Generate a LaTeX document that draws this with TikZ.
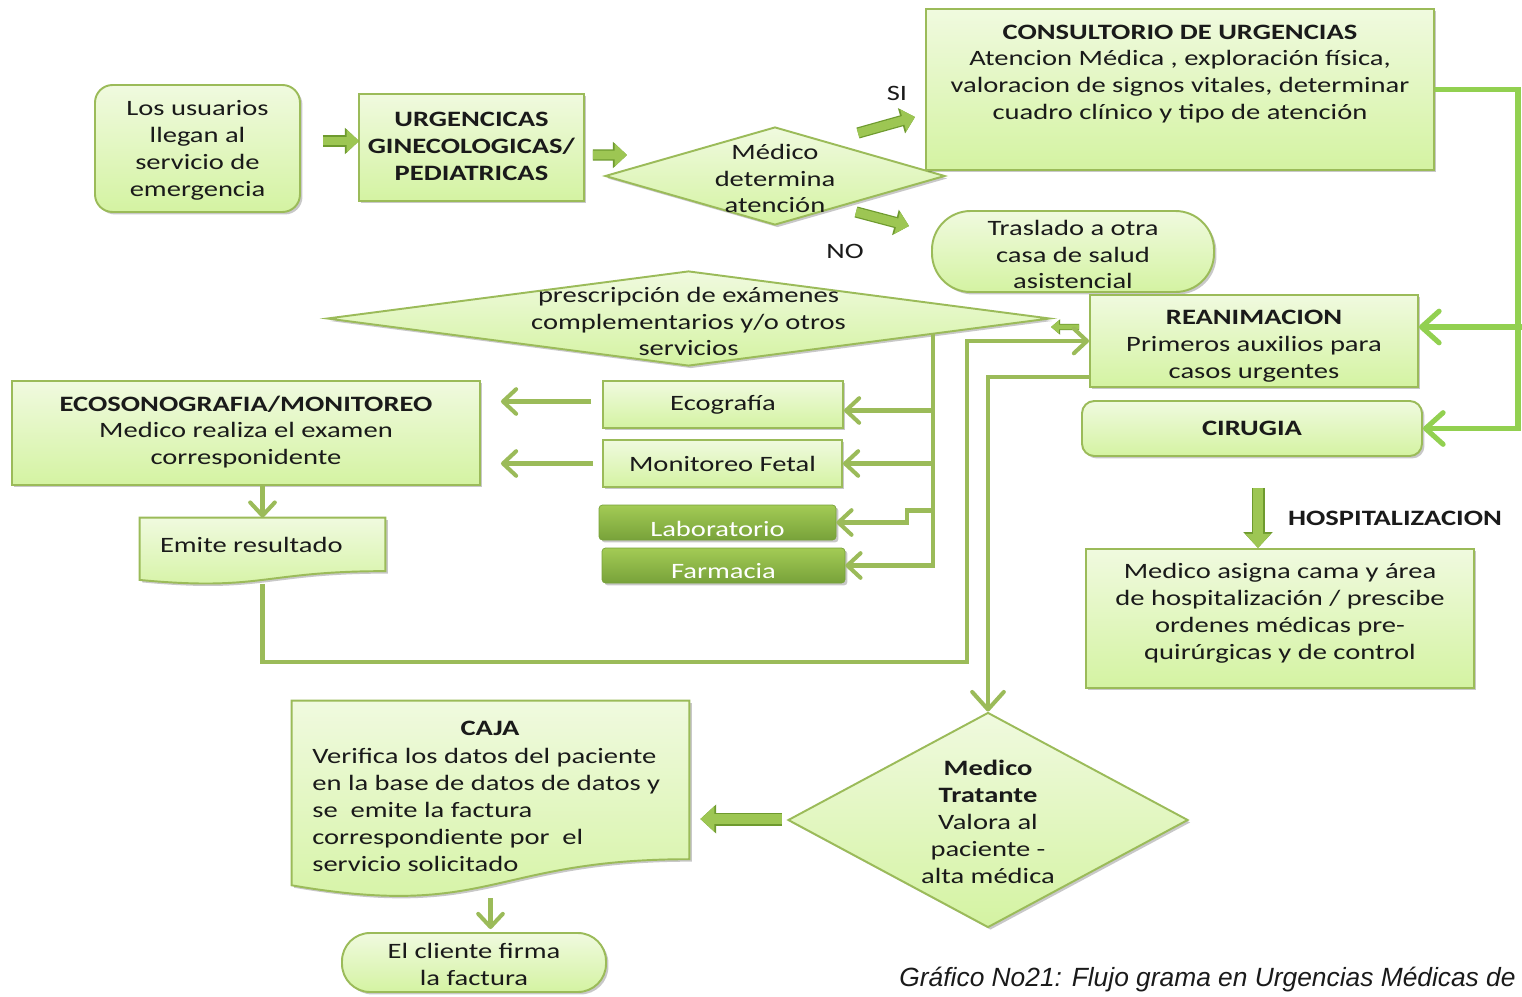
\documentclass[tikz,border=0pt]{standalone}
\usepackage{fontspec}
\setmainfont{Carlito}[FakeStretch=1.3]
\newfontfamily\capfont{Liberation Sans}
\usetikzlibrary{shapes.geometric,arrows.meta,shadows,calc}
\definecolor{boxtop}{HTML}{F0FADF}
\definecolor{boxbot}{HTML}{D4F3A2}
\definecolor{edgeC}{HTML}{9BBB59}
\definecolor{lineC}{HTML}{9BBB59}
\definecolor{brightC}{HTML}{92D050}
\definecolor{btnTop}{HTML}{A3CB55}
\definecolor{btnBot}{HTML}{78A23A}
\definecolor{blkC}{HTML}{9DC653}
\definecolor{blkD}{HTML}{6E9A2E}
\definecolor{txtC}{HTML}{1A1A1A}
\tikzset{
  bw/.style={minimum width=#1*0.02cm},
  bh/.style={minimum height=#1*0.02cm},
  shad/.style={drop shadow={shadow xshift=1.4pt,shadow yshift=-1.4pt,opacity=0.3,fill=black!70}},
  box/.style={draw=edgeC, line width=1.1pt, top color=boxtop, bottom color=boxbot, shad, inner sep=0pt, align=center, text=txtC},
  rbox/.style={box, rounded corners=#1},
  dia/.style={diamond, draw=edgeC, line width=1.1pt, top color=boxtop, bottom color=boxbot, shad, inner sep=0pt},
  docshape/.style={draw=edgeC, line width=1.1pt, top color=boxtop, bottom color=boxbot, shad},
  btn/.style={top color=btnTop, bottom color=btnBot, draw=btnBot, rounded corners=2pt, shad, inner sep=0pt},
  txt/.style={align=center, text=txtC, inner sep=0pt},
  conn/.style={draw=lineC, line width=2.3pt},
  conn2/.style={draw=brightC, line width=2.9pt},
  chev/.style={-{Straight Barb[length=7.5pt,width=14pt,round]}},
  bigchev/.style={-{Straight Barb[length=10pt,width=18pt,round]}},
  blk/.style={draw=blkC, line width=5pt, -{Triangle[length=7pt,width=12.5pt]},
    preaction={draw=blkD, line width=6.4pt, -{Triangle[length=8pt,width=14.5pt]}}},
  blkbig/.style={draw=blkC, line width=6pt, -{Triangle[length=8pt,width=14pt]},
    preaction={draw=blkD, line width=7.4pt, -{Triangle[length=9pt,width=16pt]}}},
  blksmall/.style={draw=blkC, line width=2.6pt, -{Triangle[length=4.5pt,width=7pt]},
    preaction={draw=blkD, line width=3.6pt, -{Triangle[length=5.2pt,width=8.5pt]}}},
}
\begin{document}
\begin{tikzpicture}[x=0.02cm,y=-0.02cm,font=\fontsize{12.5}{15.3}\selectfont]
\useasboundingbox[fill=white] (0,0) rectangle (1522,997);

% ---- top row
\node[rbox=10pt, bw=205, bh=127] (n1) at (197.5,148.5) {};
\node[txt] (n1T) at (197.5,150.5) {Los usuarios\\llegan al\\servicio de\\emergencia};
\node[box, bw=225, bh=107] (n2) at (471.5,147.5) {};
\node[txt] (n2T) at (471.5,146.5) {\textbf{URGENCICAS}\\\textbf{GINECOLOGICAS/}\\\textbf{PEDIATRICAS}};
\node[dia, bw=340, bh=98] (d1) at (775,176) {};
\node[txt] (d1T) at (775,178.5) {Médico\\determina\\atención};
\node[box, bw=508, bh=161] (consult) at (1180,89.5) {};
\node[txt] (consultT) at (1180,74) {\textbf{CONSULTORIO DE URGENCIAS}\\Atencion Médica , exploración física,\\valoracion de signos vitales, determinar\\cuadro clínico y tipo de atención};
\node[rbox=22pt, bw=282, bh=81] (traslado) at (1073,251.5) {};
\node[txt] (trasladoT) at (1073,254.5) {Traslado a otra\\casa de salud\\asistencial};
\node[txt] (si) at (897,93) {SI};
\node[txt] (no) at (845,251) {NO};

% ---- middle
\node[dia, bw=723, bh=95] (presc) at (688.5,318.5) {};
\node[txt] (prescT) at (688.5,321.5) {prescripción de exámenes\\complementarios y/o otros\\servicios};
\node[box, bw=328, bh=92] (reanim) at (1254,341) {};
\node[txt] (reanimT) at (1254,346) {\textbf{REANIMACION}\\Primeros auxilios para\\casos urgentes};
\node[rbox=7pt, bw=340, bh=55] (cirugia) at (1252,428.5) {\textbf{CIRUGIA}};
\node[box, bw=468, bh=104] (ecos) at (246,433) {};
\node[txt] (ecosT) at (246,432) {\textbf{ECOSONOGRAFIA/MONITOREO}\\Medico realiza el examen\\corresponidente};
\node[box, bw=240, bh=47] (eco) at (723,404.5) {Ecografía};
\node[box, bw=239, bh=47] (mon) at (722.5,463.5) {Monitoreo Fetal};
\node[btn, bw=237, bh=35] (lab) at (717.5,522.5) {};
\node[txt, text=white] (labT) at (717.5,528.5) {Laboratorio};
\node[btn, bw=243, bh=35] (farm) at (723.5,565.5) {};
\node[txt, text=white] (farmT) at (723.5,571) {Farmacia};

% Emite resultado (document shape)
\node[inner sep=0pt, bw=245, bh=66] (emite) at (262.5,551) {};
\path[docshape] (emite.north west) -- (emite.north east)
  -- ($(emite.north east)!0.802!(emite.south east)$)
  .. controls ($(emite.north)!0.802!(emite.south)$) and ($(emite.north)!1.108!(emite.south)$)
  .. ($(emite.north west)!0.934!(emite.south west)$) -- cycle;
\node[txt, anchor=west] (emiteT) at ($(emite.west)+(20,-6)$) {Emite resultado};

% Hospitalizacion
\node[txt] (hospL) at (1395,518) {\textbf{HOSPITALIZACION}};
\node[box, bw=388, bh=139] (hosp) at (1280,618.5) {};
\node[txt] (hospT) at (1280,613.5) {Medico asigna cama y área\\de hospitalización / prescibe\\ordenes médicas pre-\\quirúrgicas y de control};

% ---- bottom
\node[dia, bw=400, bh=215] (medico) at (988,820) {};
\node[txt] (medicoT) at (988,822) {\textbf{Medico}\\\textbf{Tratante}\\Valora al\\paciente -\\alta médica};
\node[inner sep=0pt, bw=397, bh=197] (caja) at (490.5,799.5) {};
\path[docshape] (caja.north west) -- (caja.north east)
  -- ($(caja.north east)!0.802!(caja.south east)$)
  .. controls ($(caja.north)!0.802!(caja.south)$) and ($(caja.north)!1.108!(caja.south)$)
  .. ($(caja.north west)!0.934!(caja.south west)$) -- cycle;
\node[txt] (cajaT) at (490,728) {\textbf{CAJA}};
\node[txt, align=left, anchor=west] (cajaB) at (312,810) {Verifica los datos del paciente\\en la base de datos de datos y\\se\ \ emite la factura\\correspondiente por\ \ el\\servicio solicitado};
\node[rbox=16pt, bw=264, bh=59] (cliente) at (474,962.5) {};
\node[txt] (clienteT) at (474,964.5) {El cliente firma\\la factura};

\node[anchor=east, inner sep=0pt, text=txtC, font=\capfont\itshape\fontsize{15}{18}\selectfont] (cap) at (1516,980) {Gráfico No21: Flujo grama en Urgencias Médicas de};

% ---- block arrows
\draw[blk] ($(n1.east)+(22,-7.5)$) -- ($(n2.west)+(1,-6.5)$);
\draw[blk] ($(n2.east)+(8,7.5)$) -- ($(d1.west)+(23,-21)$);
\draw[blk] ($(d1)+(83,-43)$) -- ($(consult.west)+(-10,27.5)$);
\draw[blk] ($(d1)+(81,36)$) -- ($(traslado.west)+(-22,-25.5)$);
\draw[blksmall] ($(reanim.west)+(-10,-14)$) -- ($(presc.east)+(0,8.5)$);
\draw[blkbig] ($(cirugia.south)+(6,31)$) -- ($(hosp.north)+(-22,0)$);
\draw[blkbig] ($(medico.west)+(-5,-1)$) -- ($(caja.east |- medico.west)+(11,-1)$);

% ---- right connector
\draw[conn2, bigchev] (consult.east) -| ($(cirugia.east)+(95,0)$) -- (cirugia.east);
\draw[conn2, bigchev] ($(cirugia.east |- reanim.east)+(99,-14)$) -- ($(reanim.east)+(0,-14)$);

% ---- prescription branches
\coordinate (pv) at ($(presc.south)!0.674!(presc.east)$);
\draw[conn, chev] (pv) |- (farm.east);
\draw[conn, chev] ($(pv |- eco.east)+(0,6)$) -- ($(eco.east)+(0,6)$);
\draw[conn, chev] (pv |- mon.east) -- (mon.east);
\draw[conn, chev] ($(pv |- lab.east)+(0,-12)$) -- ++(-26,0) |- (lab.east);
\draw[conn, chev] ($(eco.west)+(-11,-3)$) -- ($(ecos.east |- eco.west)+(20,-3)$);
\draw[conn, chev] ($(mon.west)+(-9,0)$) -- ($(ecos.east |- mon.west)+(20,0)$);
\draw[conn, chev] (emite.north |- ecos.south) -- (emite.north);
\draw[conn, chev] (emite.south) -- ++(0,78) -| ($(reanim.west)+(-122,0)$) -- (reanim.west);
\draw[conn, bigchev] ($(reanim.south west)+(0,-11)$) -| (medico.north);
\draw[conn, chev] (caja.south) -- ($(caja.south |- cliente.north)+(0,-3)$);
\end{tikzpicture}
\end{document}
